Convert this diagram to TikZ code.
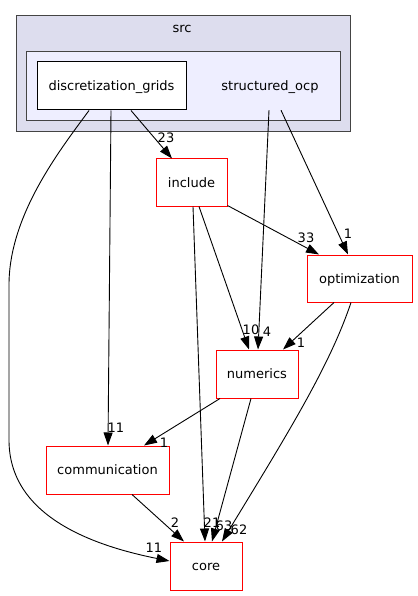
\documentclass[tikz,border=0pt]{standalone}
\usepackage{fontspec}
\setmainfont{DejaVu Sans}
\usetikzlibrary{arrows.meta,calc}
\definecolor{clusterouter}{HTML}{DDDDEE}
\definecolor{clusterinner}{HTML}{EEEEFF}
\definecolor{clusterborder}{HTML}{444444}
\begin{document}
\begin{tikzpicture}[x=1pt,y=-1pt,
  every node/.style={font=\fontsize{13}{15}\selectfont, inner sep=0pt},
  dirbox/.style={draw=red, line width=1pt, fill=white, text height=10pt, text depth=1pt},
  plainbox/.style={draw=black, line width=1pt, fill=white, text height=10pt, text depth=1pt},
  lbl/.style={anchor=base},
  dep/.style={draw=black, line width=0.9pt, -{Triangle[length=13pt,width=9pt]}}
]
\useasboundingbox (0,0) rectangle (417,596);
% clusters
\path[fill=clusterouter, draw=clusterborder, line width=1pt] (16,16) rectangle (350.5,131.5);
\node[lbl] (srclbl) at (182,32.3) {src};
\path[fill=clusterinner, draw=clusterborder, line width=1pt] (26.5,52) rectangle (340,121);
% nodes
\node[plainbox, minimum width=149pt, minimum height=48pt] (dg) at (111.5,86) {discretization\_grids};
\node[text height=10pt, text depth=1pt, minimum height=48pt] (st) at (270,86) {structured\_ocp};
\node[dirbox, minimum width=71pt, minimum height=47pt] (inc) at (191.5,182.5) {include};
\node[dirbox, minimum width=105pt, minimum height=47pt] (opt) at (359.5,278.5) {optimization};
\node[dirbox, minimum width=82pt, minimum height=48pt] (num) at (257,374) {numerics};
\node[dirbox, minimum width=123pt, minimum height=48pt] (comm) at (107.5,470) {communication};
\node[dirbox, minimum width=72pt, minimum height=48pt] (core) at (206,566) {core};
% edges
\draw[dep] ([xshift=-22.5pt]dg.south) .. controls (60,150) and (9,215) .. (9,285)
  -- (9,440) .. controls (9,515) and (90,545) .. ([yshift=5pt]core.west);
\node[lbl] (l1) at (154,552) {11};
\draw[dep] ([xshift=-0.5pt]dg.south) -- ([xshift=0.5pt]comm.north);
\node[lbl] (l2) at (116,432) {11};
\draw[dep] ([xshift=19.5pt]dg.south) -- ([xshift=-19.5pt]inc.north);
\node[lbl] (l3) at (166,142.7) {23};
\draw[dep] ([xshift=-1pt]st.south) -- ([xshift=1pt]num.north);
\node[lbl] (l4) at (267,336) {4};
\draw[dep] ([xshift=11pt]st.south) -- ([xshift=-11.5pt]opt.north);
\node[lbl] (l5) at (348,238) {1};
\draw[dep] ([xshift=1.5pt]inc.south) -- ([xshift=-1pt]core.north);
\node[lbl] (l6) at (212,527) {21};
\draw[dep] ([xshift=7.5pt]inc.south) -- ([xshift=-8pt]num.north);
\node[lbl] (l7) at (251,334) {10};
\draw[dep] ([yshift=1pt]inc.south east) -- ([xshift=-40.5pt]opt.north);
\node[lbl] (l8) at (306,242) {33};
\draw[dep] ([xshift=-25.5pt]opt.south) -- ([xshift=26pt]num.north);
\node[lbl] (l9) at (301,347.7) {1};
\draw[dep] ([xshift=-8.5pt]opt.south) .. controls (330,365) and (290,430) .. ([xshift=16pt]core.north);
\node[lbl] (l10) at (239,534.7) {62};
\draw[dep] ([xshift=-37pt]num.south) -- ([xshift=36.5pt]comm.north);
\node[lbl] (l11) at (164,447) {1};
\draw[dep] ([xshift=-6pt]num.south) -- ([xshift=6pt]core.north);
\node[lbl] (l12) at (224,530) {63};
\draw[dep] ([xshift=24.5pt]comm.south) -- ([xshift=-22pt]core.north);
\node[lbl] (l13) at (175,527) {2};
\end{tikzpicture}
\end{document}
